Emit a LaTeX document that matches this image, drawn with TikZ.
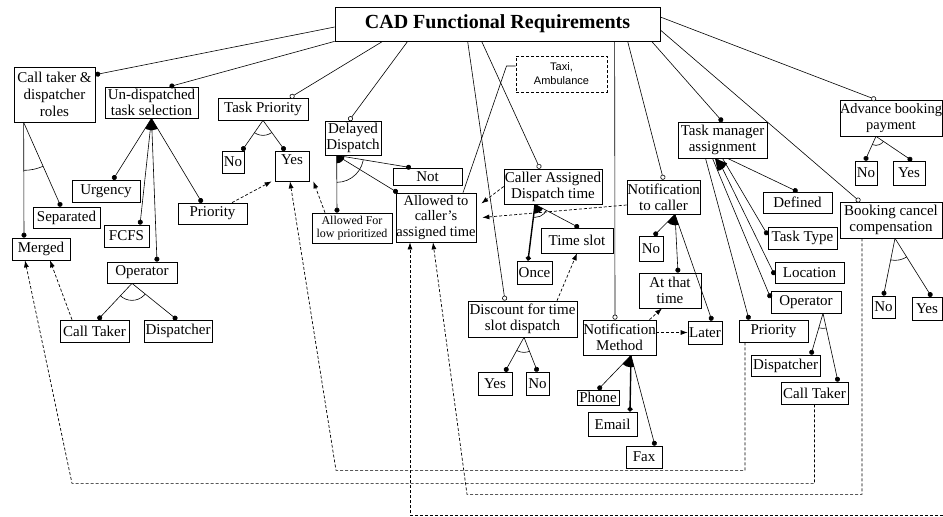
\documentclass[tikz,border=0pt]{standalone}
\usepackage{fontspec}
\setmainfont{Liberation Serif}
\newfontfamily\taxifont{Liberation Sans}
\usepackage{tikz}
\usetikzlibrary{arrows.meta,calc,positioning}

\tikzset{
  feat/.style={draw, line width=0.7pt, inner sep=0pt, align=center, font=\fontsize{15}{16}\selectfont},
  sz/.style 2 args={minimum width=#1pt, minimum height=#2pt},
  link/.style={line width=0.6pt},
  mand/.style={link, -{Circle[length=5pt]}},
  opt/.style={link, -{Circle[open, length=5pt, fill=white]}},
  req/.style={line width=0.7pt, densely dashed, -{Latex[length=7pt, width=5pt]}}
}
\newcommand{\andarc}[4]{\begin{scope}\clip (#1) -- (#2) -- (#3) -- cycle;\draw[link] (#1) circle[radius=#4];\end{scope}}
\newcommand{\orfan}[4]{\begin{scope}\clip (#1) -- (#2) -- (#3) -- cycle;\fill (#1) circle[radius=#4];\end{scope}}

\begin{document}
\begin{tikzpicture}[x=1pt, y=-1pt]
\useasboundingbox (0,0) rectangle (943,517);
\node[feat, sz={325}{34}, font=\fontsize{20}{24}\selectfont\bfseries] (cad) at (497.5,24) {CAD Functional Requirements};
\node[feat, sz={81}{55}, font=\fontsize{15}{17}\selectfont] (roles) at (54.5,94.5) {Call taker \&\\dispatcher\\roles};
\node[feat, sz={93}{31}] (undisp) at (151.5,102.5) {Un-dispatched\\task selection};
\node[feat, sz={90}{22}] (tprio) at (263,109) {Task Priority};
\node[feat, sz={22}{22}] (tpno) at (233,162) {No};
\node[feat, sz={34}{30}, text depth=12pt] (tpyes) at (292,166) {Yes};
\node[feat, sz={56}{34}] (delay) at (353,138) {Delayed\\Dispatch};
\node[feat, sz={69}{17}] (dnot) at (427.5,176.5) {Not};
\node[feat, sz={80}{49}, font=\fontsize{14.5}{15.5}\selectfont] (dallow) at (436,217.5) {Allowed to\\caller's\\assigned time};
\node[feat, sz={80}{30}, font=\fontsize{12}{13}\selectfont] (dlow) at (352,228) {Allowed For\\low prioritized};
\node[feat, sz={91}{36}, densely dashed, line width=1pt, font=\taxifont\fontsize{11}{14}\selectfont] (taxi) at (561.5,74) {Taxi,\\Ambulance};
\node[feat, sz={98}{35}] (caller) at (553,186.5) {Caller Assigned\\Dispatch time};
\node[feat, sz={72}{25}] (slot) at (577,240.5) {Time slot};
\node[feat, sz={35}{23}] (once) at (534.5,272.5) {Once};
\node[feat, sz={109}{36}] (disc) at (522.5,319) {Discount for time\\slot dispatch};
\node[feat, sz={34}{23}] (discyes) at (495,383.5) {Yes};
\node[feat, sz={23}{23}] (discno) at (537.5,383.5) {No};
\node[feat, sz={73}{35}] (nmeth) at (619.5,337.5) {Notification\\Method};
\node[feat, sz={42}{15}] (phone) at (598,397.5) {Phone};
\node[feat, sz={49}{24}] (email) at (612.5,424) {Email};
\node[feat, sz={36}{22}] (fax) at (644,457) {Fax};
\node[feat, sz={73}{34}] (ncall) at (663.5,197) {Notification\\to caller};
\node[feat, sz={24}{25}] (ncno) at (651,248.5) {No};
\node[feat, sz={62}{35}] (atthat) at (670,290.5) {At that\\time};
\node[feat, sz={34}{23}] (later) at (705,332.5) {Later};
\node[feat, sz={89}{36}] (tman) at (722.5,140) {Task manager\\assignment};
\node[feat, sz={69}{21}] (defined) at (797.5,202.5) {Defined};
\node[feat, sz={69}{22}] (ttype) at (802.5,238) {Task Type};
\node[feat, sz={69}{21}] (loc) at (809.5,272.5) {Location};
\node[feat, sz={70}{22}] (opr) at (806,302) {Operator};
\node[feat, sz={69}{22}] (prior) at (773.5,331) {Priority};
\node[feat, sz={69}{21}] (dispr) at (785.5,365.5) {Dispatcher};
\node[feat, sz={67}{22}] (ctr) at (814.5,393) {Call Taker};
\node[feat, sz={102}{36}, font=\fontsize{14.4}{16}\selectfont] (adv) at (891,118) {Advance booking\\payment};
\node[feat, sz={22}{24}] (advno) at (866,173) {No};
\node[feat, sz={32}{24}] (advyes) at (909,173) {Yes};
\node[feat, sz={102}{36}] (bcc) at (891,220) {Booking cancel\\compensation};
\node[feat, sz={23}{22}] (bccno) at (883.5,307) {No};
\node[feat, sz={30}{23}] (bccyes) at (927,308.5) {Yes};
\node[feat, sz={68}{22}] (urg) at (106,191) {Urgency};
\node[feat, sz={67}{21}] (sep) at (66.5,217.5) {Separated};
\node[feat, sz={45}{22}] (fcfs) at (126.5,236) {FCFS};
\node[feat, sz={69}{21}] (priol) at (212.5,213.5) {Priority};
\node[feat, sz={58}{22}] (merged) at (41,249) {Merged};
\node[feat, sz={70}{21}] (opl) at (142,272.5) {Operator};
\node[feat, sz={69}{22}] (ctl) at (94.5,331) {Call Taker};
\node[feat, sz={68}{22}] (displ) at (178,331) {Dispatcher};

\coordinate (rolesJ) at ([xshift=10pt]roles.south west);
\coordinate (undispJ) at (undisp.south);
\coordinate (tprioJ) at (tprio.south);
\coordinate (oplJ) at ([xshift=-10pt]opl.south);
\coordinate (delayJ) at ([xshift=12pt]delay.south west);
\coordinate (callerJ) at ([xshift=-18pt]caller.south);
\coordinate (discJ) at ([xshift=1.5pt]disc.south);
\coordinate (nmethJ) at ([xshift=11.5pt]nmeth.south);
\coordinate (ncallJ) at ([xshift=11.5pt]ncall.south);
\coordinate (tmanJ) at ([xshift=-7.5pt]tman.south);
\coordinate (oprJ) at ([xshift=17pt]opr.south);
\coordinate (advJ) at ([xshift=-15pt]adv.south);
\coordinate (bccJ) at ([xshift=4pt]bcc.south);
\coordinate (mergedT) at ([xshift=-17pt]merged.north);
\coordinate (sepT) at ([xshift=-5.5pt]sep.north);
\coordinate (urgT) at ([xshift=7pt]urg.north);
\coordinate (fcfsT) at ([xshift=13.5pt]fcfs.north);
\coordinate (oplT) at ([xshift=15pt]opl.north);
\coordinate (priolT) at ([xshift=-10.5pt]priol.north);
\coordinate (ctlT) at ([xshift=3.5pt]ctl.north);
\coordinate (displT) at ([xshift=-1pt]displ.north);
\coordinate (tpnoT) at ([xshift=9pt]tpno.north);
\coordinate (tpyesT) at ([xshift=-7pt]tpyes.north);
\coordinate (dnotT) at ([xshift=-16.5pt]dnot.north);
\coordinate (dallowT) at ([xshift=2pt]dallow.north west);
\coordinate (dlowT) at ([xshift=-15pt]dlow.north);
\coordinate (onceT) at ([xshift=-6.5pt]once.north);
\coordinate (slotT) at ([xshift=2pt]slot.north);
\coordinate (discyesT) at ([xshift=10pt]discyes.north);
\coordinate (discnoT) at (discno.north);
\coordinate (phoneT) at (phone.north);
\coordinate (emailT) at ([xshift=17.5pt]email.north);
\coordinate (faxT) at ([xshift=11pt]fax.north);
\coordinate (ncnoT) at ([xshift=3pt]ncno.north);
\coordinate (atthatT) at ([xshift=8pt]atthat.north);
\coordinate (laterT) at ([xshift=7pt]later.north);
\coordinate (definedT) at (defined.north);
\coordinate (ttypeT) at ([yshift=3pt]ttype.west);
\coordinate (locT) at ([yshift=-2.5pt]loc.west);
\coordinate (oprT) at ([yshift=4pt]opr.west);
\coordinate (priorT) at ([xshift=-24.5pt]prior.north);
\coordinate (disprT) at ([xshift=25.5pt]dispr.north);
\coordinate (ctrT) at ([xshift=23.5pt]ctr.north);
\coordinate (advnoT) at ([xshift=-1pt]advno.north);
\coordinate (advyesT) at ([xshift=3pt]advyes.north);
\coordinate (bccnoT) at (bccno.north);
\coordinate (bccyesT) at ([xshift=4.5pt]bccyes.north);
\coordinate (offedge) at (943,515);

\draw[mand] ([yshift=-3pt]cad.west) -- ([yshift=-8pt]roles.north east);
\draw[mand] (cad.south west) -- ([xshift=18pt]undisp.north);
\draw[opt] ([xshift=48pt]cad.south west) -- ([xshift=27pt]tprio.north);
\draw[opt] ([xshift=73pt]cad.south west) -- ([xshift=-4pt]delay.north);
\draw[opt] ([xshift=133pt]cad.south west) -- ([xshift=-17.5pt]disc.north);
\draw[opt] ([xshift=147pt]cad.south west) -- ([xshift=-13pt]caller.north);
\draw[opt] ([xshift=280pt]cad.south west) -- ([xshift=-4.5pt]nmeth.north);
\draw[opt] ([xshift=293pt]cad.south west) -- (ncall.north);
\draw[mand] ([xshift=317pt]cad.south west) -- (tman.north);
\draw[opt] ([yshift=-6pt]cad.east) -- ([xshift=-31pt]bcc.north);
\draw[opt] ([yshift=7pt]cad.east) -- ([xshift=-15pt]adv.north);

\draw[mand] (rolesJ) -- (mergedT);
\draw[mand] (rolesJ) -- (sepT);
\andarc{rolesJ}{mergedT}{sepT}{48pt}
\draw[mand] (undispJ) -- (urgT);
\draw[mand] (undispJ) -- (fcfsT);
\draw[mand] (undispJ) -- (oplT);
\draw[mand] (undispJ) -- (priolT);
\orfan{undispJ}{urgT}{priolT}{12pt}
\draw[mand] (oplJ) -- (ctlT);
\draw[mand] (oplJ) -- (displT);
\andarc{oplJ}{ctlT}{displT}{17pt}
\draw[mand] (tprioJ) -- (tpnoT);
\draw[mand] (tprioJ) -- (tpyesT);
\andarc{tprioJ}{tpnoT}{tpyesT}{15pt}
\draw[mand] (delayJ) -- (dnotT);
\draw[mand] (delayJ) -- (dallowT);
\draw[mand] (delayJ) -- (dlowT);
\orfan{delayJ}{dlowT}{dnotT}{8pt}
\andarc{delayJ}{dlowT}{dnotT}{27pt}
\draw[link] ([yshift=8pt]taxi.west) -- ++(-9,0) -- ([xshift=27pt]dallow.north);
\draw[mand, line width=1.4pt] (callerJ) -- (onceT);
\draw[mand] (callerJ) -- (slotT);
\orfan{callerJ}{onceT}{slotT}{9pt}
\andarc{callerJ}{onceT}{slotT}{13pt}
\draw[mand] (discJ) -- (discyesT);
\draw[mand] (discJ) -- (discnoT);
\andarc{discJ}{discyesT}{discnoT}{15pt}
\draw[mand] (nmethJ) -- (phoneT);
\draw[mand, line width=1.4pt] (nmethJ) -- (emailT);
\draw[mand] (nmethJ) -- (faxT);
\orfan{nmethJ}{phoneT}{faxT}{12pt}
\draw[mand] (ncallJ) -- (ncnoT);
\draw[mand] (ncallJ) -- (atthatT);
\draw[mand] (ncallJ) -- (laterT);
\orfan{ncallJ}{ncnoT}{laterT}{11pt}
\draw[mand] ([xshift=-17pt]tman.south) -- (priorT);
\draw[mand] ([xshift=-10pt]tman.south) -- (oprT);
\draw[mand] ([xshift=-5pt]tman.south) -- (locT);
\draw[mand] (tman.south) -- (ttypeT);
\draw[mand] ([xshift=5pt]tman.south) -- (definedT);
\orfan{tmanJ}{priorT}{definedT}{13pt}
\draw[mand] (oprJ) -- (disprT);
\draw[mand] (oprJ) -- (ctrT);
\andarc{oprJ}{disprT}{ctrT}{15pt}
\draw[mand] (advJ) -- (advnoT);
\draw[mand] (advJ) -- (advyesT);
\andarc{advJ}{advnoT}{advyesT}{9pt}
\draw[mand] (bccJ) -- (bccnoT);
\draw[mand] (bccJ) -- (bccyesT);
\andarc{bccJ}{bccnoT}{bccyesT}{22pt}

\draw[req] ([xshift=-22.5pt]ctl.north) -- ([xshift=9pt]merged.south);
\draw[req] (ctr.south) -- ++(0,79) -- ++(-742.5,0) -- ([xshift=-16pt]merged.south);
\draw[req] ([xshift=-28.5pt]prior.south) -- ++(0,128) -- ++(-409,0) -- ([xshift=-2pt]tpyes.south);
\draw[req] ([xshift=19.5pt]priol.north) -- ([xshift=-3pt]tpyes.south west);
\draw[req] ([xshift=-27pt]dlow.north) -- ([xshift=4pt]tpyes.south east);
\draw[req] ([xshift=-29pt]bcc.south) -- ++(0,256) -- ++(-395,0) -- ([xshift=-3pt]dallow.south);
\draw[req] (offedge) -- ++(-533,0) -- ([xshift=-26pt]dallow.south);
\draw[req] (caller.west) -- ([xshift=5pt, yshift=14pt]dallow.east);
\draw[req] ([yshift=-8pt]ncall.west) -- ([xshift=6pt]dallow.east);
\draw[req] ([xshift=34.5pt]disc.north) -- (slot.south);
\draw[req] (nmeth.east |- later.west) -- (later.west);
\draw[req] ([xshift=30pt]nmeth.north) -- ([xshift=-8pt]atthat.south);
\end{tikzpicture}
\end{document}
